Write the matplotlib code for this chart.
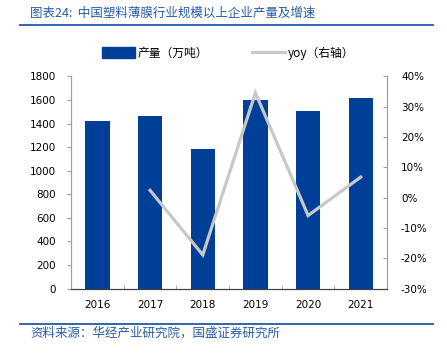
import matplotlib
matplotlib.use("Agg")
import matplotlib.pyplot as plt
from matplotlib.lines import Line2D
from matplotlib.patches import Patch
from matplotlib.ticker import FuncFormatter

plt.rcParams['font.family'] = ['Noto Sans CJK SC', 'DejaVu Sans']

years = ["2016", "2017", "2018", "2019", "2020", "2021"]
output = [1425, 1462, 1188, 1600, 1510, 1614]
yoy_years = ["2017", "2018", "2019", "2020", "2021"]
yoy = [2.4, -18.9, 34.6, -5.9, 6.8]

title = "图表24:  中国塑料薄膜行业规模以上企业产量及增速"
source = "资料来源：华经产业研究院，国盛证券研究所"
bar_label = "产量（万吨）"
line_label = "yoy（右轴）"

bar_color = "#003f98"
line_color = "#c8c8c8"
text_blue = "#2a5ca8"

fig = plt.figure(figsize=(4.47, 3.54), dpi=100)
ax = fig.add_axes([0.159, 0.185, 0.707, 0.599])
ax2 = ax.twinx()

x = list(range(len(years)))
ax.bar(x, output, width=0.46, color=bar_color, zorder=2)
ax.set_xlim(-0.5, len(years) - 0.5)
ax.set_ylim(0, 1800)
ax.set_yticks(range(0, 1801, 200))
ax.set_xticks(x)
ax.set_xticklabels(years, fontsize=7.5, family='DejaVu Sans')
ax.set_xticks([i + 0.5 for i in x[:-1]], minor=True)
ax.tick_params(axis='x', which='major', length=0, pad=8)
ax.tick_params(axis='x', which='minor', length=3, direction='in', color='#a0a0a0')
ax.tick_params(axis='y', labelsize=7.5, length=3, color='#a0a0a0', pad=8)
for lab in ax.get_yticklabels():
    lab.set_family('DejaVu Sans')

xi = [years.index(y) for y in yoy_years]
ax2.plot(xi, yoy, color=line_color, lw=2.3, zorder=3, solid_joinstyle='miter')
ax2.set_ylim(-30, 40)
ax2.set_yticks(range(-30, 41, 10))
ax2.yaxis.set_major_formatter(FuncFormatter(lambda v, p: f"{int(v)}%"))
ax2.tick_params(axis='y', labelsize=7.5, length=3, direction='in', color='#a0a0a0', pad=10)
for lab in ax2.get_yticklabels():
    lab.set_family('DejaVu Sans')

for a in (ax, ax2):
    a.spines['top'].set_visible(False)
    a.spines['left'].set_color('#a0a0a0')
    a.spines['right'].set_color('#a0a0a0')
    a.spines['bottom'].set_color('#404040')
    a.spines['left'].set_linewidth(0.8)
    a.spines['right'].set_linewidth(0.8)

fig.text(0.067, 0.963, title, fontsize=9, color=text_blue, style='italic', va='center', ha='left')
fig.add_artist(Line2D([0.045, 0.969], [0.929, 0.929], color='#1f5aa6', lw=1.3))
fig.add_artist(Line2D([0.045, 0.969], [0.085, 0.085], color='#1f5aa6', lw=1.3))
fig.text(0.067, 0.060, source, fontsize=9, color=text_blue, style='italic', va='center', ha='left')

handles = [Patch(color=bar_color), Line2D([0], [0], color=line_color, lw=2.3)]
fig.legend(handles, [bar_label, line_label], loc='center left', bbox_to_anchor=(0.228, 0.85),
           ncol=2, frameon=False, fontsize=8.5, handlelength=2.8, handleheight=1.0,
           columnspacing=3.75, handletextpad=0.2, borderpad=0, borderaxespad=0)

fig.savefig("out.png", dpi=100)
